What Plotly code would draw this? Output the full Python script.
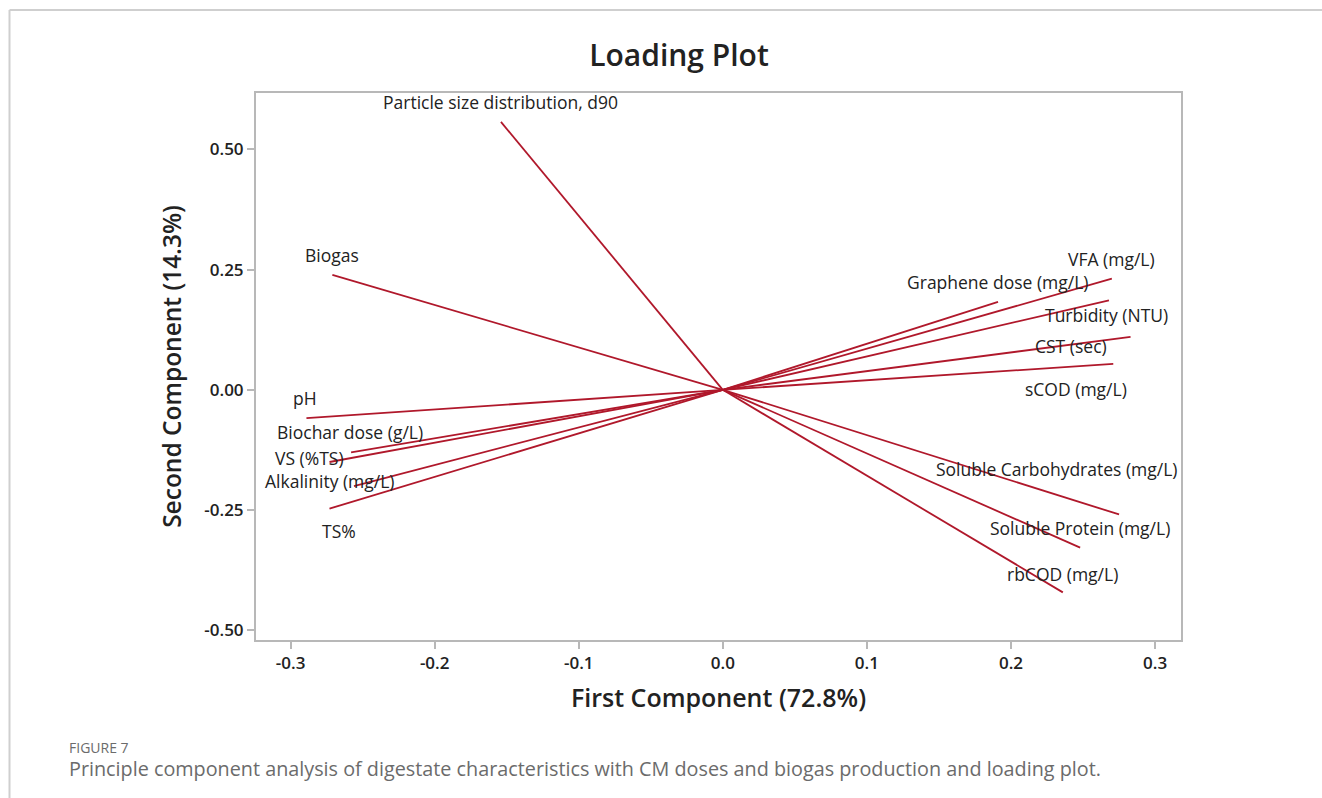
import plotly.graph_objects as go

# PCA loadings (first component, second component) for each variable
variables = [
    "Particle size distribution, d90", "Biogas", "Graphene dose (mg/L)",
    "VFA (mg/L)", "Turbidity (NTU)", "CST (sec)", "sCOD (mg/L)", "pH",
    "Biochar dose (g/L)", "VS (%TS)", "Alkalinity (mg/L)", "TS%",
    "Soluble Carbohydrates (mg/L)", "Soluble Protein (mg/L)", "rbCOD (mg/L)",
]
pc1 = [-0.154, -0.271, 0.191, 0.270, 0.268, 0.283, 0.271, -0.289,
       -0.258, -0.273, -0.256, -0.273, 0.275, 0.248, 0.236]
pc2 = [0.557, 0.239, 0.183, 0.231, 0.186, 0.110, 0.054, -0.059,
       -0.130, -0.150, -0.200, -0.247, -0.259, -0.328, -0.421]

# label offsets from the vector tip, in pixels (dx, dy)
label_offsets = [
    (0, 20), (0, 20), (0, 20), (0, 20), (-2, -15), (-60, -9), (-37, -25),
    (-1, 20), (-1, 20), (-20, 4), (-24, 5), (10, -22),
    (-62, 45), (0, 20), (0, 18),
]

x_ticks = [-0.3, -0.2, -0.1, 0.0, 0.1, 0.2, 0.3]
x_tick_text = ["-0.3", "-0.2", "-0.1", "0.0", "0.1", "0.2", "0.3"]
y_ticks = [-0.5, -0.25, 0.0, 0.25, 0.5]
y_tick_text = ["-0.50", "-0.25", "0.00", "0.25", "0.50"]

LINE_RED = "#b0182b"
FONT = "Open Sans"

fig = go.Figure()
for name, x, y in zip(variables, pc1, pc2):
    fig.add_trace(go.Scatter(
        x=[0, x], y=[0, y], mode="lines", name=name,
        line=dict(color=LINE_RED, width=1.8), showlegend=False,
        hoverinfo="text", text=name,
    ))

for name, x, y, (dx, dy) in zip(variables, pc1, pc2, label_offsets):
    fig.add_annotation(
        x=x, y=y, text=name, showarrow=False, xshift=dx, yshift=dy,
        font=dict(family=FONT, size=17.5, color="#222222"),
    )

# figure frame lines (top and left)
W, H = 1322, 798
L, R, T, B = 256, 141, 93, 158
pw, ph = W - L - R, H - T - B
def px(xpix):
    return (xpix - L) / pw
def py(ypix):
    return (H - B - ypix) / ph

fig.add_shape(type="line", xref="paper", yref="paper",
              x0=px(9.5), x1=px(W), y0=py(10), y1=py(10),
              line=dict(color="#cfcfcf", width=2))
fig.add_shape(type="line", xref="paper", yref="paper",
              x0=px(9.5), x1=px(9.5), y0=py(10), y1=py(H),
              line=dict(color="#cfcfcf", width=2))

# caption
fig.add_annotation(xref="paper", yref="paper", x=px(67), y=py(747),
                   xanchor="left", yanchor="middle", showarrow=False,
                   text="FIGURE 7",
                   font=dict(family=FONT, size=14, color="#6b6b6b"))
fig.add_annotation(xref="paper", yref="paper", x=px(67), y=py(768),
                   xanchor="left", yanchor="middle", showarrow=False,
                   text="Principle component analysis of digestate characteristics with CM doses and biogas production and loading plot.",
                   font=dict(family=FONT, size=19.8, color="#6b6b6b"))

fig.update_layout(
    width=W, height=H,
    margin=dict(l=L, r=R, t=T, b=B),
    paper_bgcolor="white", plot_bgcolor="white",
    title=dict(text="Loading Plot", x=679 / W, xref="container",
               xanchor="center", y=1 - 55 / H, yanchor="middle",
               font=dict(family=FONT, size=30, color="#222222", weight=600)),
    font=dict(family=FONT, color="#222222"),
)
fig.update_xaxes(
    range=[-0.324, 0.318], tickvals=x_ticks, ticktext=x_tick_text,
    showgrid=False, zeroline=False, showline=True, mirror=True,
    linecolor="#b8b8b8", linewidth=2, ticks="outside", ticklen=7,
    tickcolor="#b8b8b8", tickwidth=1.5,
    tickfont=dict(family=FONT, size=17, color="#222222", weight=600),
    title=dict(text="First Component (72.8%)", standoff=16,
               font=dict(family=FONT, size=25, color="#222222", weight=600)),
)
fig.update_yaxes(
    range=[-0.520, 0.617], tickvals=y_ticks, ticktext=y_tick_text,
    showgrid=False, zeroline=False, showline=True, mirror=True,
    linecolor="#b8b8b8", linewidth=2, ticks="outside", ticklen=7,
    tickcolor="#b8b8b8", tickwidth=1.5,
    tickfont=dict(family=FONT, size=17, color="#222222", weight=600),
    title=dict(text="Second Component (14.3%)", standoff=16,
               font=dict(family=FONT, size=24.5, color="#222222", weight=600)),
)

fig.write_html("out.html")
